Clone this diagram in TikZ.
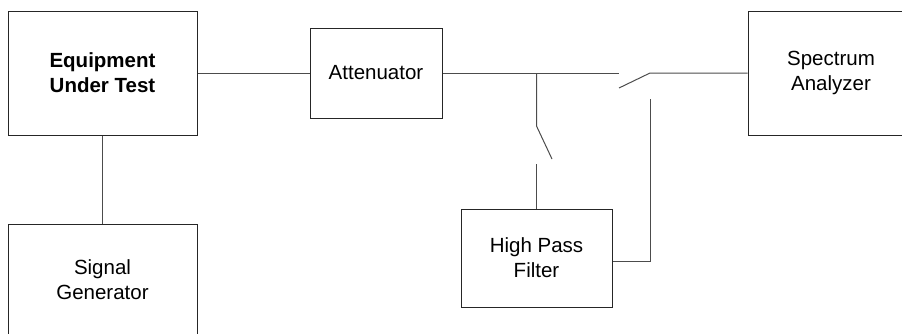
\documentclass[tikz,border=0pt]{standalone}
\usepackage{fontspec}
\setmainfont{Liberation Sans}
\begin{document}
\begin{tikzpicture}[x=1pt,y=-1pt,
  blk/.style={draw=black!85,line width=1pt,inner sep=0pt,align=center,
    font=\fontsize{20.5}{25}\selectfont},
  wire/.style={draw=black!70,line width=1pt}]
\useasboundingbox (0,0) rectangle (902,333);
\node[blk,minimum width=189pt,minimum height=124pt,font=\fontsize{20.5}{25}\selectfont\bfseries] (eut) at (102.5,73) {Equipment\\Under Test};
\node[blk,minimum width=189pt,minimum height=112pt] (sg) at (102.5,280) {Signal\\Generator};
\node[blk,minimum width=132pt,minimum height=90pt] (att) at (376,73) {Attenuator};
\node[blk,minimum width=151pt,minimum height=98pt] (hpf) at (536.5,258) {High Pass\\Filter};
\node[blk,minimum width=166pt,minimum height=124pt] (sa) at (831,73) {Spectrum\\Analyzer};
\coordinate (br) at (536.5,73);
\coordinate (b1) at (536.5,126);
\coordinate (b2) at (552,159);
\coordinate (b3) at (536.5,164);
\coordinate (s1) at (619,73);
\coordinate (s2) at (619,88);
\coordinate (s3) at (650,73);
\coordinate (s4) at (650,99);
\coordinate (s5) at (650,261);
\draw[wire] (eut.east) -- (att.west);
\draw[wire] (eut.south) -- (sg.north);
\draw[wire] (att.east) -- (s1);
\draw[wire] (s2) -- (s3) -- (sa.west);
\draw[wire] (br) -- (b1) -- (b2);
\draw[wire] (b3) -- (hpf.north);
\draw[wire] (s4) -- (s5) -- (hpf.east |- s5);
\end{tikzpicture}
\end{document}
